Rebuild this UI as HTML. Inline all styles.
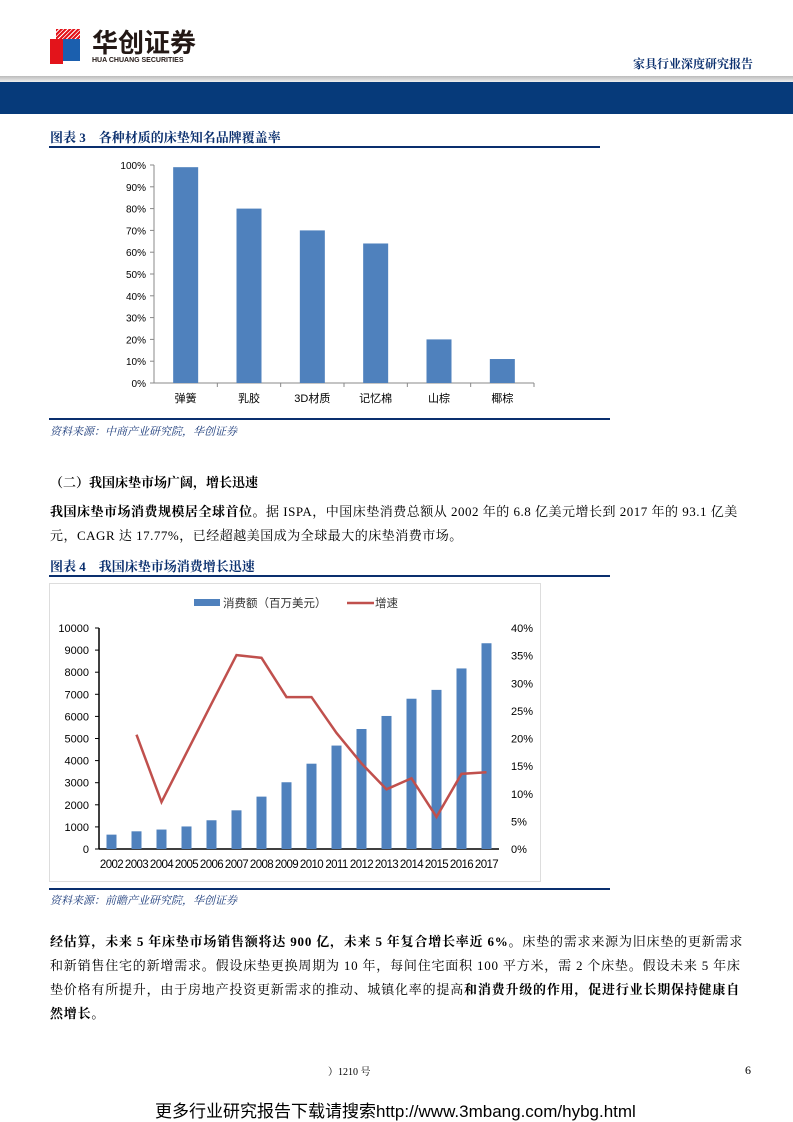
<!DOCTYPE html>
<html><head><meta charset="utf-8"><style>
body{margin:0;width:793px;height:1122px;position:relative;background:#fff;font-family:"Liberation Serif","Noto Serif CJK SC",serif;color:#000;overflow:hidden}
.abs{position:absolute}
.t{font-weight:bold;font-size:13px;color:#0a2f6e}
.src{font-size:11px;color:#1a3a7a;font-style:italic}
.p{font-size:13px;line-height:24px;letter-spacing:0.5px}
svg text{font-family:"Liberation Sans","Noto Sans CJK SC",sans-serif}
</style></head><body>
<div class="abs" style="left:50px;top:29px;width:35px;height:35px">
<div style="position:absolute;left:0;top:10px;width:13px;height:25px;background:#e3141b"></div>
<div style="position:absolute;left:13px;top:10px;width:17px;height:22px;background:#1b5fae"></div>
<div style="position:absolute;left:6px;top:0;width:24px;height:10px;background:repeating-linear-gradient(135deg,#e3141b 0 2px,#fff 2px 3px)"></div>
</div>
<div class="abs" style="left:92px;top:25px;font:bold 26px 'Noto Sans CJK SC',sans-serif;color:#231815;letter-spacing:0px;line-height:34px">华创证券</div>
<div class="abs" style="left:92px;top:57px;font:bold 7px 'Liberation Sans',sans-serif;color:#231815">HUA CHUANG SECURITIES</div>
<div class="abs t" style="left:633px;top:55px;font-size:12px">家具行业深度研究报告</div>
<div class="abs" style="left:0;top:76px;width:793px;height:6px;background:linear-gradient(#bbb,#eee)"></div>
<div class="abs" style="left:0;top:82px;width:793px;height:32px;background:#063a7a"></div>

<div class="abs t" style="left:50px;top:127px">图表 3　各种材质的床垫知名品牌覆盖率</div>
<div class="abs" style="left:49px;top:146px;width:551px;height:2px;background:#0a2f6e"></div>
<svg class="abs" style="left:0;top:0" width="793" height="1122" id="c1"></svg>
<div class="abs" style="left:49px;top:418px;width:561px;height:2px;background:#0a2f6e"></div>
<div class="abs src" style="left:50px;top:423px">资料来源：中商产业研究院，华创证券</div>

<div class="abs" style="left:50px;top:472px;font-size:13px;font-weight:bold">（二）我国床垫市场广阔，增长迅速</div>
<div class="abs p" style="left:50px;top:500px;width:708px"><b>我国床垫市场消费规模居全球首位。</b>据 ISPA，中国床垫消费总额从 2002 年的 6.8 亿美元增长到 2017 年的 93.1 亿美元，CAGR 达 17.77%，已经超越美国成为全球最大的床垫消费市场。</div>
<div class="abs t" style="left:50px;top:556px">图表 4　我国床垫市场消费增长迅速</div>
<div class="abs" style="left:49px;top:575px;width:561px;height:2px;background:#0a2f6e"></div>
<div class="abs" style="left:49px;top:583px;width:490px;height:297px;border:1px solid #ddd"></div>
<svg class="abs" style="left:0;top:0" width="793" height="1122" id="c2"></svg>
<div class="abs" style="left:49px;top:888px;width:561px;height:2px;background:#0a2f6e"></div>
<div class="abs src" style="left:50px;top:892px">资料来源：前瞻产业研究院，华创证券</div>

<div class="abs p" style="left:50px;top:930px;width:703px;letter-spacing:0.8px"><b>经估算，未来 5 年床垫市场销售额将达 900 亿，未来 5 年复合增长率近 6%。</b>床垫的需求来源为旧床垫的更新需求和新销售住宅的新增需求。假设床垫更换周期为 10 年，每间住宅面积 100 平方米，需 2 个床垫。假设未来 5 年床垫价格有所提升，由于房地产投资更新需求的推动、城镇化率的提高<b>和消费升级的作用，促进行业长期保持健康自然增长。</b></div>
<div class="abs" style="left:328px;top:1063px;font-size:10px">）1210 号</div>
<div class="abs" style="left:745px;top:1063px;font-size:12px">6</div>
<div class="abs" style="left:155px;top:1097px;font:17px 'Liberation Sans','Noto Sans CJK SC',sans-serif">更多行业研究报告下载请搜索http://www.3mbang.com/hybg.html</div>

<script>
const cats1=["弹簧","乳胶","3D材质","记忆棉","山棕","椰棕"];
const vals1=[99,80,70,64,20,11];
const ticks1=[0,10,20,30,40,50,60,70,80,90,100];
const years=["2002","2003","2004","2005","2006","2007","2008","2009","2010","2011","2012","2013","2014","2015","2016","2017"];
const sales=[650,800,880,1020,1300,1750,2370,3020,3860,4680,5430,6020,6800,7200,8170,9310];
const growth=[null,20.7,8.5,17.4,26.3,35.1,34.6,27.5,27.5,21.0,15.5,10.8,12.8,5.8,13.6,13.9];
const ticksL=[0,1000,2000,3000,4000,5000,6000,7000,8000,9000,10000];
const ticksR=[0,5,10,15,20,25,30,35,40];
const NS="http://www.w3.org/2000/svg";
function mk(p,tag,a,txt){const e=document.createElementNS(NS,tag);for(const k in a)e.setAttribute(k,a[k]);if(txt!=null)e.textContent=txt;p.appendChild(e);return e;}
const c1=document.getElementById('c1');
const x0=154,x1=534,yb=383,yt=165;
const y1=v=>yb-(v/100)*(yb-yt);
const cw=(x1-x0)/cats1.length;
ticks1.forEach(t=>{
 let e=mk(c1,'text',{x:x0-8,y:y1(t)+4,'text-anchor':'end','font-size':10,fill:'#000'},t+'%');
 
 
 mk(c1,'line',{x1:x0-4,x2:x0,y1:y1(t),y2:y1(t),stroke:'#888'});
});
mk(c1,'line',{x1:x0,x2:x0,y1:yt,y2:yb,stroke:'#888'});
mk(c1,'line',{x1:x0,x2:x1,y1:yb,y2:yb,stroke:'#888'});
cats1.forEach((c,i)=>{
 const cx=x0+cw*(i+0.5);
 let b=mk(c1,'rect',{x:cx-12.5,y:y1(vals1[i]),width:25,height:yb-y1(vals1[i]),fill:'#4f81bd'});
 
 
 mk(c1,'line',{x1:x0+cw*(i+1),x2:x0+cw*(i+1),y1:yb,y2:yb+4,stroke:'#888'});
 let l=mk(c1,'text',{x:cx,y:yb+19,'text-anchor':'middle','font-size':11},c);
 
 
});
const c2=document.getElementById('c2');
const px0=99,px1=499,pb=849,pt=628;
const yL=v=>pb-(v/10000)*(pb-pt);
const yR=v=>pb-(v/40)*(pb-pt);
const step=(px1-px0)/years.length;
const xc=i=>px0+step*(i+0.5);
ticksL.forEach(t=>{
 let e=mk(c2,'text',{x:px0-10,y:yL(t)+4,'text-anchor':'end','font-size':11},t);
 
 
 mk(c2,'line',{x1:px0-4,x2:px0,y1:yL(t),y2:yL(t),stroke:'#000'});
});
ticksR.forEach(t=>{
 let e=mk(c2,'text',{x:511,y:yR(t)+4,'font-size':11},t+'%');
 
 
});
mk(c2,'line',{x1:px0,x2:px0,y1:pt,y2:pb,stroke:'#000','stroke-width':1.5});
mk(c2,'line',{x1:px0,x2:px1,y1:pb,y2:pb,stroke:'#000','stroke-width':1.5});
years.forEach((y,i)=>{
 let b=mk(c2,'rect',{x:xc(i)-5,y:yL(sales[i]),width:10,height:pb-yL(sales[i]),fill:'#4f81bd'});
 
 
 let l=mk(c2,'text',{x:xc(i),y:pb+19,'text-anchor':'middle','font-size':11.5,'letter-spacing':'-0.6'},y);
 
 
});
let d='';growth.forEach((g,i)=>{if(g==null)return;d+=(d?'L':'M')+xc(i)+','+yR(g);});
let ln=mk(c2,'path',{d:d,fill:'none',stroke:'#c0504d','stroke-width':2.5});


let lg1=mk(c2,'rect',{x:194,y:599,width:26,height:7,fill:'#4f81bd'});


let lt1=mk(c2,'text',{x:223,y:607,'font-size':11.5,fill:'#333'},'消费额（百万美元）');


let lg2=mk(c2,'line',{x1:347,x2:374,y1:603,y2:603,stroke:'#c0504d','stroke-width':2.5});


let lt2=mk(c2,'text',{x:375,y:607,'font-size':11.5,fill:'#333'},'增速');


</script>
</body></html>
